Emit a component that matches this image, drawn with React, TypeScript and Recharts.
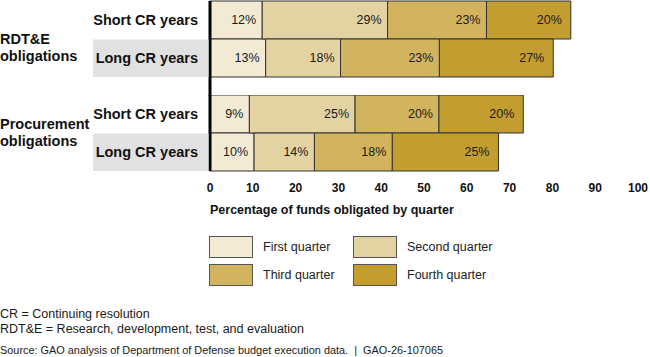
import React from "react";
import { BarChart, Bar, XAxis, YAxis, LabelList, ReferenceLine } from "recharts";

const rowLabels = ["Short CR years", "Long CR years"];
const groupLabels = [["RDT&E", "obligations"], ["Procurement", "obligations"]];
const quarterNames = ["First quarter", "Second quarter", "Third quarter", "Fourth quarter"];
const quarterKeys = ["q1", "q2", "q3", "q4"];
const xTicks = [0, 10, 20, 30, 40, 50, 60, 70, 80, 90, 100];

// RDT&E obligations: [short CR years, long CR years]
const rdteFirst = [12.2, 13.0];
const rdteSecond = [29.3, 17.5];
const rdteThird = [23.1, 23.1];
const rdteFourth = [19.7, 26.6];
// Procurement obligations
const procFirst = [9.2, 10.3];
const procSecond = [24.7, 14.1];
const procThird = [19.6, 18.2];
const procFourth = [19.7, 24.8];

const axisTitle = "Percentage of funds obligated by quarter";
const footnotes = ["CR = Continuing resolution", "RDT&E = Research, development, test, and evaluation"];
const sourceNote = "Source: GAO analysis of Department of Defense budget execution data.  |  GAO-26-107065";

const quarterColors = ["#F3EAD4", "#E4D3A2", "#D2B45F", "#C49D31"];
const FONT = "'Liberation Sans', Arial, Helvetica, sans-serif";

const build = (a: number[], b: number[], c: number[], d: number[]) =>
  rowLabels.map((row, i) => ({ row, q1: a[i], q2: b[i], q3: c[i], q4: d[i] }));

const rdteData = build(rdteFirst, rdteSecond, rdteThird, rdteFourth);
const procData = build(procFirst, procSecond, procThird, procFourth);

const groupLabelShift = [8.5, -0.5];

const makeTick = (groupIdx: number) => (props: any) => {
  const { y, payload, index } = props;
  const isLong = index === 1;
  const lines = groupLabels[groupIdx];
  const mid = y + 19 + groupLabelShift[groupIdx];
  return (
    <g>
      {isLong && <rect x={93} y={y - 18.5} width={115.5} height={37.5} fill="#E1E1E1" />}
      <text x={198} y={y} textAnchor="end" dominantBaseline="central" fontFamily={FONT} fontWeight="bold" fontSize={14.5} fill="#111">
        {payload.value}
      </text>
      {index === 0 && (
        <g>
          <text x={0} y={mid - 8.5} dominantBaseline="central" fontFamily={FONT} fontWeight="bold" fontSize={14.5} fill="#111">{lines[0]}</text>
          <text x={0} y={mid + 8.5} dominantBaseline="central" fontFamily={FONT} fontWeight="bold" fontSize={14.5} fill="#111">{lines[1]}</text>
        </g>
      )}
    </g>
  );
};

const renderBars = () =>
  quarterKeys.map((k, i) => (
    <Bar key={k} dataKey={k} stackId="s" fill={quarterColors[i]} stroke="#333" strokeWidth={1} isAnimationActive={false}>
      <LabelList
        dataKey={k}
        position="insideRight"
        offset={i === 3 ? 9 : 6}
        formatter={(v: any) => `${Math.round(Number(v))}%`}
        style={{ fontFamily: FONT, fontSize: 12.5, fill: "#1a1a1a" }}
      />
    </Bar>
  ));

const AxisTitle = (props: any) => {
  const vb = props.viewBox || { x: 210, y: 76 };
  return (
    <text x={vb.x} y={vb.y + 42.5} fontFamily={FONT} fontWeight="bold" fontSize={12.5} fill="#111">
      {axisTitle}
    </text>
  );
};

const legendPos = [
  { left: 209, top: 236 },
  { left: 353, top: 236 },
  { left: 209, top: 264 },
  { left: 353, top: 264 },
];

export default function App() {
  return (
    <div style={{ position: "absolute", left: 0, top: 0, width: 650, height: 357, background: "#fff", fontFamily: FONT, overflow: "hidden" }}>
      <div style={{ position: "absolute", left: 0, top: 0 }}>
        <BarChart layout="vertical" width={650} height={96} data={rdteData} margin={{ top: 1, right: 12, bottom: 0, left: 0 }} barCategoryGap={0}>
          <XAxis type="number" domain={[0, 100]} ticks={xTicks} hide />
          <YAxis type="category" dataKey="row" width={210} axisLine={false} tickLine={false} tick={makeTick(0)} padding={{ top: 0, bottom: 19 }} />
          {renderBars()}
          <ReferenceLine x={0} stroke="#000" strokeWidth={3} />
        </BarChart>
      </div>
      <div style={{ position: "absolute", left: 0, top: 95 }}>
        <BarChart layout="vertical" width={650} height={125} data={procData} margin={{ top: 0, right: 12, bottom: 0, left: 0 }} barCategoryGap={0}>
          <XAxis
            type="number"
            domain={[0, 100]}
            ticks={xTicks}
            axisLine={false}
            tickLine={false}
            tickMargin={6}
            height={49}
            tick={{ fontFamily: FONT, fontWeight: "bold", fontSize: 12, fill: "#111" }}
            label={{ content: AxisTitle } as any}
          />
          <YAxis type="category" dataKey="row" width={210} axisLine={false} tickLine={false} tick={makeTick(1)} />
          {renderBars()}
          <ReferenceLine x={0} stroke="#000" strokeWidth={3} />
        </BarChart>
      </div>
      {quarterNames.map((name, i) => (
        <div key={name} style={{ position: "absolute", left: legendPos[i].left, top: legendPos[i].top, height: 22, display: "flex", alignItems: "center" }}>
          <div style={{ width: 42, height: 20, background: quarterColors[i], border: "1px solid #555" }} />
          <span style={{ marginLeft: 10, fontSize: 12.5, color: "#222", whiteSpace: "nowrap" }}>{name}</span>
        </div>
      ))}
      <svg width={650} height={57} style={{ position: "absolute", left: 0, top: 300 }}>
        <text x={0} y={18} fontFamily={FONT} fontSize={12.5} fill="#1a1a1a">{footnotes[0]}</text>
        <text x={0} y={32.5} fontFamily={FONT} fontSize={12.5} fill="#1a1a1a">{footnotes[1]}</text>
        <text x={0} y={54} fontFamily={FONT} fontSize={11} fill="#1a1a1a" textLength={443} lengthAdjust="spacingAndGlyphs" style={{ whiteSpace: "pre" }}>{sourceNote}</text>
      </svg>
    </div>
  );
}
